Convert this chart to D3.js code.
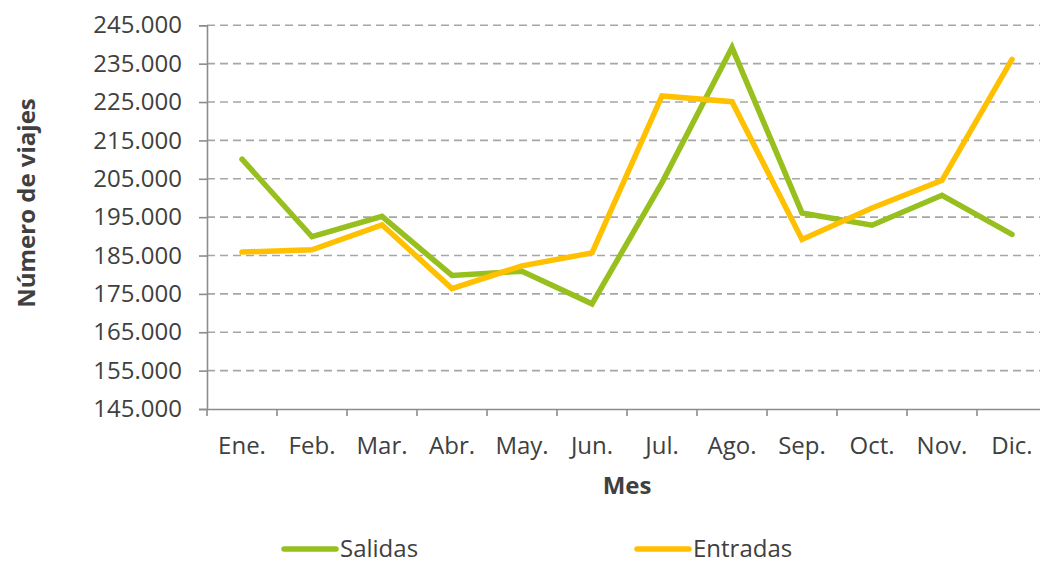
<!DOCTYPE html>
<html lang="es">
<head>
  <meta charset="UTF-8">
  <title>Salidas y entradas por mes</title>
  <style>
    body { margin: 0; background: #fff; }
    svg { display: block; font-family: "Open Sans", sans-serif; }
    .tick text { fill: #404040; font-size: 24px; }
    .grid line { stroke: #a6a6a6; stroke-width: 1.6; stroke-dasharray: 8,5; }
    .series { fill: none; stroke-width: 5.5; stroke-linejoin: miter; stroke-linecap: round; }
    .title { fill: #404040; font-size: 24px; font-weight: bold; }
    .legend text { fill: #404040; font-size: 24px; }
  </style>
</head>
<body>
  <svg width="1040" height="563"></svg>

  <script src="https://d3js.org/d3.v7.min.js"></script>
  <script>
    const months = ["Ene.", "Feb.", "Mar.", "Abr.", "May.", "Jun.", "Jul.", "Ago.", "Sep.", "Oct.", "Nov.", "Dic."];
    const salidas = [210100, 189900, 195200, 179800, 180900, 172400, 204000, 239200, 196100, 192900, 200700, 190500];
    const entradas = [185900, 186500, 193000, 176400, 182300, 185700, 226600, 225100, 189200, 197400, 204600, 236100];
    const yTicks = [145000, 155000, 165000, 175000, 185000, 195000, 205000, 215000, 225000, 235000, 245000];

    const series = [
      { name: "Salidas", values: salidas, color: "#97bf1d" },
      { name: "Entradas", values: entradas, color: "#ffc000" }
    ];

    const svg = d3.select("svg");
    const plotLeft = 207, plotRight = 1047, plotTop = 25.3, plotBottom = 409;

    const x = d3.scaleBand().domain(months).range([plotLeft, plotRight]);
    const y = d3.scaleLinear().domain([145000, 245000]).range([plotBottom, plotTop]);

    const es = d3.formatLocale({ decimal: ",", thousands: ".", grouping: [3], currency: ["", " €"] });
    const fmt = es.format(",.0f");

    // dashed grid lines
    svg.append("g")
       .attr("class", "grid")
       .selectAll("line")
       .data(yTicks.slice(1))
       .join("line")
       .attr("x1", plotLeft)
       .attr("x2", plotRight)
       .attr("y1", d => y(d))
       .attr("y2", d => y(d));

    // y axis
    const yAxis = svg.append("g")
       .attr("transform", `translate(${plotLeft},0)`)
       .call(d3.axisLeft(y).tickValues(yTicks).tickFormat(fmt).tickSize(8).tickPadding(17));
    yAxis.select(".domain").attr("stroke", "#8c8c8c").attr("stroke-width", 1.6);
    yAxis.selectAll(".tick line").attr("stroke", "#8c8c8c").attr("stroke-width", 1.6);
    yAxis.attr("font-family", null).attr("font-size", null);

    // x axis, ticks at band edges
    const xAxis = svg.append("g")
       .attr("transform", `translate(0,${plotBottom})`)
       .call(d3.axisBottom(x).tickSize(0).tickPadding(28));
    xAxis.select(".domain").attr("stroke", "#8c8c8c").attr("stroke-width", 1.6);
    xAxis.attr("font-family", null).attr("font-size", null);
    xAxis.selectAll(".edge")
       .data(months)
       .join("line")
       .attr("class", "edge")
       .attr("x1", d => x(d))
       .attr("x2", d => x(d))
       .attr("y1", 0)
       .attr("y2", 7)
       .attr("stroke", "#8c8c8c")
       .attr("stroke-width", 1.6);

    // lines
    const line = d3.line()
       .x((d, i) => x(months[i]) + x.bandwidth() / 2)
       .y(d => y(d));

    svg.selectAll(".series")
       .data(series)
       .join("path")
       .attr("class", "series")
       .attr("stroke", d => d.color)
       .attr("d", d => line(d.values));

    // axis titles
    svg.append("text")
       .attr("class", "title")
       .attr("x", (plotLeft + plotRight) / 2)
       .attr("y", 494)
       .attr("text-anchor", "middle")
       .text("Mes");

    svg.append("text")
       .attr("class", "title")
       .attr("transform", "translate(35,203) rotate(-90)")
       .attr("text-anchor", "middle")
       .text("Número de viajes");

    // legend
    const legend = svg.append("g")
       .attr("class", "legend")
       .selectAll("g")
       .data(series)
       .join("g")
       .attr("transform", (d, i) => `translate(${284 + i * 353},549)`);

    legend.append("line")
       .attr("x1", 0)
       .attr("x2", 52)
       .attr("stroke", d => d.color)
       .attr("stroke-width", 5.5)
       .attr("stroke-linecap", "round");

    legend.append("text")
       .attr("x", 56)
       .attr("dy", "0.35em")
       .text(d => d.name);
  </script>
</body>
</html>
